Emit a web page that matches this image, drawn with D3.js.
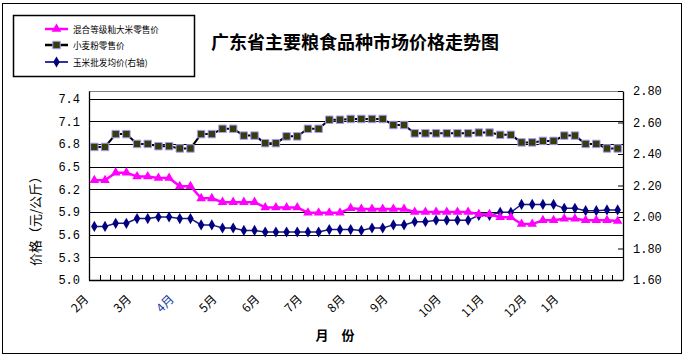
<!DOCTYPE html>
<html><head><meta charset="utf-8">
<script src="https://cdn.jsdelivr.net/npm/d3@7/dist/d3.min.js"></script>
<style>body{margin:0;background:#fff}svg{display:block}</style>
</head><body>
<svg id="c" width="685" height="357"></svg>
<script>
// ---- data ----
const categories = d3.range(50);              // weekly observations
const monthLabels = ["2月","3月","4月","5月","6月","7月","8月","9月","10月","11月","12月","1月"];
const monthStart  = [0,4,8,12,16,20,24,28,33,37,41,44];
const riceRetail = [6.32,6.32,6.42,6.42,6.37,6.37,6.35,6.35,6.24,6.24,6.08,6.08,
  6.03,6.03,6.03,6.03,5.96,5.96,5.96,5.96,5.89,5.89,5.89,5.89,5.95,
  5.94,5.94,5.94,5.94,5.94,5.90,5.90,5.90,5.90,5.90,5.90,5.87,5.87,5.83,5.83,
  5.74,5.74,5.79,5.79,5.81,5.81,5.79,5.79,5.79,5.78];
const flourRetail = [6.76,6.76,6.93,6.93,6.80,6.80,6.77,6.77,6.74,6.74,6.93,6.93,
  7.00,7.00,6.91,6.91,6.81,6.81,6.90,6.90,7.00,7.00,7.12,7.12,7.13,7.13,7.13,7.13,
  7.05,7.05,6.94,6.94,6.94,6.94,6.94,6.94,6.95,6.95,6.92,6.92,6.82,6.82,6.84,6.84,
  6.91,6.91,6.80,6.80,6.74,6.74];
const cornWholesale = [1.94,1.94,1.96,1.96,1.99,1.99,2.00,2.00,1.99,1.99,1.95,1.95,
  1.93,1.93,1.915,1.915,1.905,1.905,1.905,1.905,1.905,1.905,1.92,1.92,1.92,1.915,
  1.93,1.93,1.95,1.95,1.97,1.97,1.98,1.98,1.98,1.98,2.01,2.01,2.03,2.03,
  2.08,2.08,2.08,2.08,2.055,2.055,2.04,2.04,2.045,2.045];
const leftTicks  = [5.0,5.3,5.6,5.9,6.2,6.5,6.8,7.1,7.4];
const rightTicks = [1.6,1.8,2.0,2.2,2.4,2.6,2.8];
const seriesNames = ["混合等级籼大米零售价","小麦粉零售价","玉米批发均价(右轴)"];
const title = "广东省主要粮食品种市场价格走势图";
const yTitle = "价格（元/公斤）";
const xTitle = "月　份";

// ---- layout ----
const L = 89, R = 623, T = 91, B = 280;
const svg = d3.select("#c");
const numFont = "'Liberation Mono', 'DejaVu Sans Mono', monospace";
const cjk = "'Noto Sans CJK SC', sans-serif";

svg.append("rect").attr("x",2.5).attr("y",3.5).attr("width",679).attr("height",350)
  .attr("fill","#fff").attr("stroke","#000").attr("stroke-width",1);

const x = d3.scaleBand().domain(categories).range([L,R]).padding(0);
const cx = i => x(i) + x.bandwidth()/2;
const yL = d3.scaleLinear().domain([5.0,7.5]).range([B,T]);
const yR = d3.scaleLinear().domain([1.6,2.8]).range([B,T]);

// gridlines
svg.append("g").selectAll("line").data(leftTicks.slice(1)).join("line")
  .attr("x1",L).attr("x2",R).attr("y1",d=>Math.round(yL(d))+0.5).attr("y2",d=>Math.round(yL(d))+0.5)
  .attr("stroke","#000").attr("stroke-width",1);
// top border
svg.append("line").attr("x1",L).attr("x2",R).attr("y1",T+0.5).attr("y2",T+0.5)
  .attr("stroke","#808080").attr("stroke-width",1);

// left axis
const gL = svg.append("g").attr("transform",`translate(${L},0)`)
  .call(d3.axisLeft(yL).tickValues(leftTicks).tickSize(0).tickPadding(9).tickFormat(d3.format(".1f")));
gL.select(".domain").attr("stroke","#000").attr("stroke-width",1.3);
gL.selectAll("text").attr("font-family",numFont).attr("font-size",12).attr("fill","#000");

// right axis
const gR = svg.append("g").attr("transform",`translate(${R},0)`)
  .call(d3.axisRight(yR).tickValues(rightTicks).tickSizeInner(-5).tickSizeOuter(0).tickPadding(10).tickFormat(d3.format(".2f")));
gR.select(".domain").attr("stroke","#000").attr("stroke-width",1.3);
gR.selectAll("line").attr("stroke","#000");
gR.selectAll("text").attr("font-family",numFont).attr("font-size",12).attr("fill","#000");

// bottom axis
svg.append("line").attr("x1",L).attr("x2",R).attr("y1",B+0.5).attr("y2",B+0.5).attr("stroke","#000").attr("stroke-width",1.3);
svg.append("g").selectAll("line").data(categories.slice(1)).join("line")
  .attr("x1",d=>Math.round(x(d))+0.5).attr("x2",d=>Math.round(x(d))+0.5)
  .attr("y1",B).attr("y2",B-5).attr("stroke","#000");
svg.append("g").selectAll("text").data(monthLabels).join("text")
  .attr("transform",(d,i)=>`translate(${cx(monthStart[i])-5},${B+20}) rotate(-45)`)
  .attr("text-anchor","end").attr("font-family",cjk).attr("font-size",12)
  .attr("fill",d=>d==="4月"?"#2040a0":"#000").text(d=>d);

// series
const lineL = d3.line().x((d,i)=>cx(i)).y(d=>yL(d));
const lineR = d3.line().x((d,i)=>cx(i)).y(d=>yR(d));
const tri = d3.symbol().type(d3.symbolTriangle).size(40);
const sq = d3.symbol().type(d3.symbolSquare).size(56);
const dia = d3.symbol().type(d3.symbolDiamond).size(36);

svg.append("path").datum(cornWholesale).attr("d",lineR).attr("fill","none").attr("stroke","#1a1a80").attr("stroke-width",1.5);
svg.append("g").selectAll("path").data(cornWholesale).join("path")
  .attr("transform",(d,i)=>`translate(${cx(i)},${yR(d)})`).attr("d",dia).attr("fill","#000080");

svg.append("path").datum(riceRetail).attr("d",lineL).attr("fill","none").attr("stroke","#ff00ff").attr("stroke-width",2.5);
svg.append("g").selectAll("path").data(riceRetail).join("path")
  .attr("transform",(d,i)=>`translate(${cx(i)},${yL(d)})`).attr("d",tri).attr("fill","#ff00ff");

svg.append("path").datum(flourRetail).attr("d",lineL).attr("fill","none").attr("stroke","#000").attr("stroke-width",2);
svg.append("g").selectAll("path").data(flourRetail).join("path")
  .attr("transform",(d,i)=>`translate(${cx(i)},${yL(d)})`).attr("d",sq)
  .attr("fill","#3a3a0a").attr("stroke","#a0a0ff").attr("stroke-width",1);

// titles
svg.append("text").attr("x",355).attr("y",49).attr("text-anchor","middle")
  .attr("font-family",cjk).attr("font-weight","bold").attr("font-size",18).text(title);
svg.append("text").attr("transform","translate(40,218) rotate(-90)").attr("text-anchor","middle")
  .attr("font-family",cjk).attr("font-size",13).text(yTitle);
svg.append("text").attr("x",335).attr("y",340).attr("text-anchor","middle")
  .attr("font-family",cjk).attr("font-weight","bold").attr("font-size",13).text(xTitle);

// legend
svg.append("rect").attr("x",13.5).attr("y",15.5).attr("width",181).attr("height",61)
  .attr("fill","#fff").attr("stroke","#000").attr("stroke-width",1.5);
const legY = [29,45,62];
const legStyles = [
  {stroke:"#ff00ff", w:2.5, sym:tri, fill:"#ff00ff", s:null},
  {stroke:"#000", w:2.5, sym:sq, fill:"#3a3a0a", s:"#a0a0ff"},
  {stroke:"#333399", w:2, sym:dia, fill:"#000080", s:null}];
const lg = svg.append("g").selectAll("g").data(seriesNames).join("g")
  .attr("transform",(d,i)=>`translate(0,${legY[i]})`);
lg.append("line").attr("x1",45).attr("x2",68).attr("y1",0).attr("y2",0)
  .attr("stroke",(d,i)=>legStyles[i].stroke).attr("stroke-width",(d,i)=>legStyles[i].w);
lg.append("path").attr("transform","translate(56.5,0)").attr("d",(d,i)=>legStyles[i].sym())
  .attr("fill",(d,i)=>legStyles[i].fill).attr("stroke",(d,i)=>legStyles[i].s||"none");
lg.append("text").attr("x",73).attr("y",3.5).attr("font-family",cjk).attr("font-size",8.6).text(d=>d);
</script>
</body></html>
